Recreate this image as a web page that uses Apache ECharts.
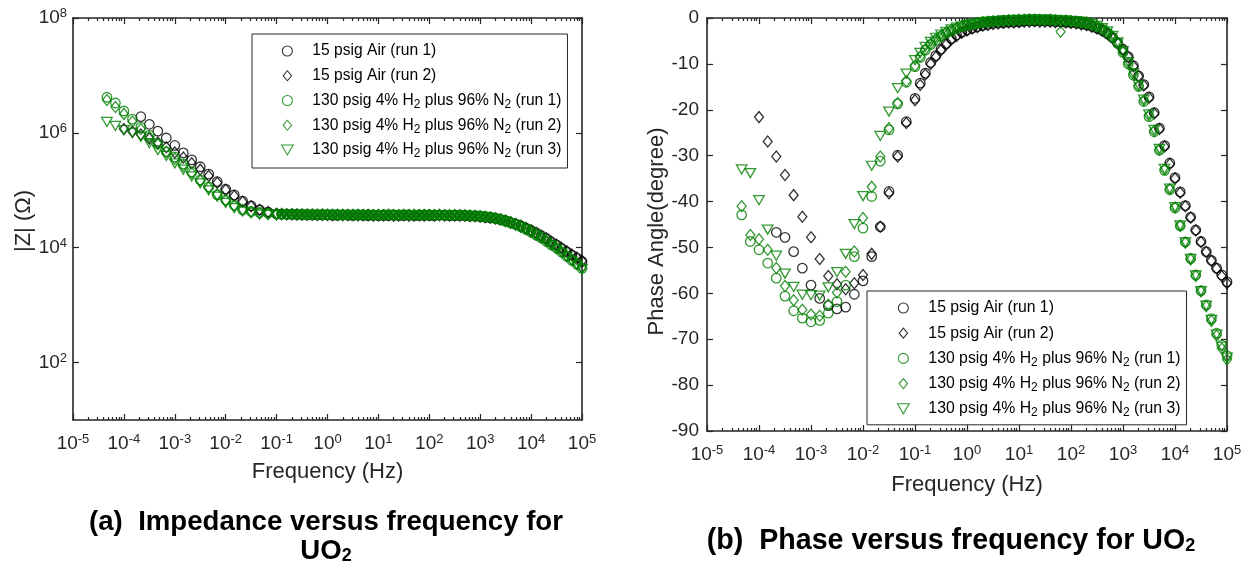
<!DOCTYPE html>
<html><head><meta charset="utf-8">
<script src="https://cdn.jsdelivr.net/npm/echarts@6/dist/echarts.min.js"></script>
<style>html,body{margin:0;padding:0;background:#fff}#c{width:1249px;height:567px}</style>
</head><body><div id="c"></div>
<script>
// ---------------- data ----------------
// measurement frequencies (Hz), high to low
const FREQ = [
  1e5, 7.94e4, 6.31e4, 5.01e4, 3.98e4, 3.16e4, 2.51e4, 2.0e4, 1.58e4, 1.26e4,
  1e4, 7943, 6310, 5012, 3981, 3162, 2512, 1995, 1585, 1259,
  1000, 794, 631, 501, 398, 316, 251, 200, 158, 126,
  100, 79.4, 63.1, 50.1, 39.8, 31.6, 25.1, 20.0, 15.8, 12.6,
  10, 7.94, 6.31, 5.01, 3.98, 3.16, 2.51, 2.0, 1.58, 1.26,
  1, 0.794, 0.631, 0.501, 0.398, 0.316, 0.251, 0.2, 0.158, 0.126,
  0.1, 0.0681, 0.0464, 0.0316, 0.0215, 0.0147,
  0.01, 6.81e-3, 4.64e-3, 3.16e-3, 2.15e-3, 1.47e-3,
  1e-3, 6.81e-4, 4.64e-4, 3.16e-4, 2.15e-4, 1.47e-4,
  1e-4, 6.81e-5, 4.64e-5
];

const SERIES_NAMES = [
  '15 psig Air (run 1)',
  '15 psig Air (run 2)',
  '130 psig 4% H2 plus 96% N2 (run 1)',
  '130 psig 4% H2 plus 96% N2 (run 2)',
  '130 psig 4% H2 plus 96% N2 (run 3)'
];

// |Z| in ohm
const ZMOD_AIR1 = [
  5.75e3, 6.61e3, 7.41e3, 8.51e3, 9.77e3, 1.12e4, 1.26e4, 1.45e4, 1.62e4, 1.82e4,
  2.00e4, 2.19e4, 2.40e4, 2.57e4, 2.75e4, 2.95e4, 3.09e4, 3.24e4, 3.31e4, 3.39e4,
  3.47e4, 3.55e4, 3.55e4, 3.63e4, 3.63e4, 3.60e4, 3.63e4, 3.66e4, 3.72e4, 3.63e4,
  3.61e4, 3.70e4, 3.63e4, 3.60e4, 3.68e4, 3.63e4, 3.61e4, 3.70e4, 3.62e4, 3.64e4,
  3.63e4, 3.70e4, 3.62e4, 3.64e4, 3.71e4, 3.63e4, 3.69e4, 3.72e4, 3.65e4, 3.70e4,
  3.72e4, 3.72e4, 3.73e4, 3.72e4, 3.75e4, 3.78e4, 3.80e4, 3.80e4, 3.82e4, 3.85e4,
  3.89e4, 4.17e4, 4.57e4, 5.37e4, 6.46e4, 8.32e4, 1.05e5, 1.41e5, 1.91e5, 2.57e5,
  3.39e5, 4.47e5, 6.03e5, 8.13e5, 1.07e6, 1.41e6, 1.91e6
];
const ZMOD_AIR2 = [
  5.90e3, 6.76e3, 7.59e3, 8.71e3, 9.93e3, 1.13e4, 1.27e4, 1.46e4, 1.63e4, 1.83e4,
  2.01e4, 2.20e4, 2.41e4, 2.58e4, 2.76e4, 2.96e4, 3.10e4, 3.24e4, 3.32e4, 3.40e4,
  3.48e4, 3.53e4, 3.57e4, 3.60e4, 3.62e4, 3.65e4, 3.60e4, 3.63e4, 3.68e4, 3.62e4,
  3.66e4, 3.61e4, 3.67e4, 3.63e4, 3.60e4, 3.66e4, 3.64e4, 3.62e4, 3.69e4, 3.63e4,
  3.65e4, 3.62e4, 3.68e4, 3.66e4, 3.63e4, 3.70e4, 3.66e4, 3.68e4, 3.71e4, 3.69e4,
  3.71e4, 3.73e4, 3.72e4, 3.74e4, 3.76e4, 3.77e4, 3.79e4, 3.81e4, 3.83e4, 3.86e4,
  3.89e4, 4.17e4, 4.57e4, 5.25e4, 6.31e4, 7.94e4, 1.02e5, 1.35e5, 1.78e5, 2.29e5,
  2.95e5, 3.72e5, 4.57e5, 5.62e5, 6.76e5, 7.94e5, 9.33e5, 1.05e6, 1.17e6
];
const ZMOD_H2_1 = [
  4.37e3, 5.13e3, 6.03e3, 7.08e3, 8.32e3, 9.77e3, 1.12e4, 1.29e4, 1.48e4, 1.66e4,
  1.86e4, 2.09e4, 2.29e4, 2.51e4, 2.69e4, 2.88e4, 3.09e4, 3.24e4, 3.39e4, 3.47e4,
  3.55e4, 3.60e4, 3.63e4, 3.70e4, 3.66e4, 3.72e4, 3.68e4, 3.74e4, 3.69e4, 3.72e4,
  3.76e4, 3.70e4, 3.74e4, 3.71e4, 3.77e4, 3.72e4, 3.70e4, 3.75e4, 3.72e4, 3.76e4,
  3.71e4, 3.74e4, 3.77e4, 3.72e4, 3.75e4, 3.73e4, 3.77e4, 3.74e4, 3.76e4, 3.75e4,
  3.77e4, 3.76e4, 3.78e4, 3.77e4, 3.79e4, 3.80e4, 3.81e4, 3.83e4, 3.84e4, 3.86e4,
  3.89e4, 3.98e4, 4.07e4, 4.27e4, 4.57e4, 5.50e4, 6.76e4, 8.32e4, 1.15e5, 1.51e5,
  2.09e5, 2.88e5, 3.80e5, 4.68e5, 6.46e5, 9.12e5, 1.26e6, 1.74e6, 2.40e6, 3.31e6, 4.17e6
];
const ZMOD_H2_2 = [
  4.47e3, 5.25e3, 6.17e3, 7.24e3, 8.51e3, 9.93e3, 1.14e4, 1.30e4, 1.49e4, 1.67e4,
  1.87e4, 2.09e4, 2.30e4, 2.51e4, 2.70e4, 2.89e4, 3.08e4, 3.23e4, 3.37e4, 3.46e4,
  3.53e4, 3.58e4, 3.62e4, 3.66e4, 3.70e4, 3.67e4, 3.71e4, 3.68e4, 3.73e4, 3.70e4,
  3.72e4, 3.75e4, 3.69e4, 3.73e4, 3.70e4, 3.74e4, 3.72e4, 3.69e4, 3.74e4, 3.71e4,
  3.73e4, 3.70e4, 3.75e4, 3.72e4, 3.74e4, 3.71e4, 3.75e4, 3.73e4, 3.74e4, 3.76e4,
  3.75e4, 3.77e4, 3.76e4, 3.78e4, 3.77e4, 3.79e4, 3.80e4, 3.82e4, 3.83e4, 3.85e4,
  3.80e4, 3.89e4, 3.98e4, 4.17e4, 4.57e4, 5.37e4, 6.61e4, 8.51e4, 1.12e5, 1.48e5,
  2.00e5, 2.69e5, 3.55e5, 4.68e5, 6.31e5, 8.51e5, 1.17e6, 1.58e6, 2.14e6, 2.82e6, 3.72e6
];
const ZMOD_H2_3 = [
  4.27e3, 5.01e3, 5.89e3, 6.92e3, 8.13e3, 9.55e3, 1.10e4, 1.27e4, 1.46e4, 1.65e4,
  1.85e4, 2.07e4, 2.28e4, 2.49e4, 2.68e4, 2.88e4, 3.06e4, 3.22e4, 3.36e4, 3.45e4,
  3.52e4, 3.57e4, 3.60e4, 3.64e4, 3.68e4, 3.65e4, 3.70e4, 3.67e4, 3.71e4, 3.68e4,
  3.70e4, 3.73e4, 3.68e4, 3.71e4, 3.69e4, 3.72e4, 3.70e4, 3.68e4, 3.73e4, 3.70e4,
  3.71e4, 3.69e4, 3.73e4, 3.70e4, 3.72e4, 3.70e4, 3.73e4, 3.71e4, 3.72e4, 3.73e4,
  3.72e4, 3.73e4, 3.72e4, 3.74e4, 3.73e4, 3.74e4, 3.74e4, 3.75e4, 3.75e4, 3.76e4,
  3.72e4, 3.72e4, 3.80e4, 3.98e4, 4.27e4, 4.90e4, 6.03e4, 7.76e4, 1.00e5, 1.32e5,
  1.74e5, 2.29e5, 2.95e5, 3.98e5, 5.01e5, 6.61e5, 8.51e5, 1.00e6, 1.12e6, 1.32e6, 1.55e6
];

// phase angle in degree
const PHASE_AIR1 = [
  -57.5, -56.0, -54.5, -52.8, -50.9, -48.7, -46.2, -43.4, -40.9, -37.9,
  -34.8, -31.6, -27.8, -24.0, -20.6, -17.2, -14.5, -12.6, -10.4, -8.4,
  -6.8, -5.4, -4.3, -3.4, -2.7, -2.2, -1.8, -1.5, -1.3, -1.1,
  -1.0, -0.9, -0.8, -0.8, -0.7, -0.7, -0.6, -0.7, -0.6, -0.7,
  -0.8, -0.9, -0.9, -1.0, -1.1, -1.2, -1.4, -1.6, -1.9, -2.2,
  -2.6, -3.1, -3.7, -4.5, -5.6, -6.8, -8.2, -9.7, -12.0, -14.2,
  -17.5, -22.6, -29.9, -37.8, -45.5, -52.0, -57.3, -60.2, -63.0, -63.4,
  -62.7, -61.1, -58.2, -54.5, -50.9, -47.8, -46.7
];
const PHASE_AIR2 = [
  -57.8, -56.3, -54.6, -52.9, -51.0, -48.8, -46.3, -43.5, -41.0, -38.1,
  -35.0, -31.8, -28.0, -24.2, -20.8, -17.4, -14.7, -12.7, -10.5, -8.5,
  -6.9, -5.5, -4.4, -3.5, -2.8, -2.3, -1.9, -1.6, -1.4, -1.2,
  -1.1, -1.0, -0.9, -0.9, -0.8, -0.8, -0.8, -0.7, -0.8, -0.8,
  -0.9, -1.0, -1.0, -1.1, -1.2, -1.3, -1.5, -1.7, -2.0, -2.3,
  -2.7, -3.2, -3.9, -4.7, -5.8, -7.0, -8.5, -10.0, -12.3, -14.6,
  -17.9, -22.9, -30.2, -38.2, -45.5, -51.4, -56.0, -57.8, -59.1, -58.0,
  -56.2, -52.5, -47.8, -43.3, -38.6, -34.2, -30.2, -26.9, -21.6
];
const PHASE_H2_1 = [
  -73.6, -71.3, -68.7, -65.5, -62.5, -59.4, -56.0, -52.4, -48.8, -45.3,
  -41.4, -37.4, -33.2, -28.8, -24.8, -21.5, -18.2, -14.9, -12.4, -10.0,
  -7.5, -5.6, -4.2, -3.2, -2.4, -1.9, -1.5, -1.2, -1.0, -0.8,
  -0.7, -0.6, -0.5, -0.5, -0.4, -0.4, -0.4, -0.3, -0.4, -0.4,
  -0.5, -0.5, -0.6, -0.6, -0.7, -0.8, -0.9, -1.0, -1.2, -1.4,
  -1.6, -1.9, -2.3, -2.8, -3.3, -4.0, -4.9, -5.8, -7.0, -8.6,
  -10.6, -14.0, -18.7, -24.4, -31.2, -38.9, -45.8, -52.0, -58.2, -61.8,
  -64.3, -65.9, -66.2, -65.4, -63.8, -60.6, -56.7, -53.4, -50.5, -48.7, -42.9
];
const PHASE_H2_2 = [
  -74.4, -72.0, -69.2, -66.0, -62.8, -59.6, -56.2, -52.6, -49.0, -45.3,
  -41.3, -37.3, -33.0, -28.7, -24.6, -21.2, -18.0, -14.8, -12.2, -9.8,
  -7.4, -5.5, -4.1, -3.1, -2.4, -1.8, -1.4, -1.1, -0.9, -0.8,
  -0.7, -0.6, -3.0, -0.5, -0.4, -0.5, -0.4, -0.4, -0.3, -0.4,
  -0.4, -0.5, -0.5, -0.6, -0.7, -0.7, -0.8, -0.9, -1.1, -1.3,
  -1.5, -1.8, -2.2, -2.6, -3.1, -3.8, -4.6, -5.6, -6.8, -8.4,
  -10.4, -13.8, -18.5, -24.0, -30.2, -36.8, -43.6, -50.9, -55.3, -59.8,
  -62.5, -64.9, -64.6, -63.6, -61.5, -58.4, -54.5, -50.5, -48.2, -47.3, -41.0
];
const PHASE_H2_3 = [
  -74.0, -71.6, -69.0, -65.8, -62.7, -59.5, -56.1, -52.5, -48.9, -45.2,
  -41.2, -37.2, -32.9, -28.5, -24.4, -21.0, -17.8, -14.6, -12.0, -9.6,
  -7.2, -5.3, -3.9, -2.9, -2.2, -1.7, -1.3, -1.0, -0.8, -0.7,
  -0.6, -0.5, -0.5, -0.4, -0.4, -0.3, -0.4, -0.3, -0.3, -0.4,
  -0.4, -0.4, -0.5, -0.5, -0.6, -0.7, -0.8, -0.9, -1.1, -1.3,
  -1.5, -1.8, -2.1, -2.5, -3.0, -3.6, -4.3, -5.2, -6.3, -7.6,
  -9.2, -12.1, -15.3, -20.4, -25.7, -32.2, -38.8, -44.9, -51.4, -55.4,
  -58.7, -60.5, -60.4, -60.3, -58.6, -55.7, -51.8, -46.1, -39.7, -33.8, -33.0
];

// tick labels
const FREQ_TICK_EXP = [-5, -4, -3, -2, -1, 0, 1, 2, 3, 4, 5];
const ZMOD_TICK_EXP = [2, 4, 6, 8];
const PHASE_TICKS = [0, -10, -20, -30, -40, -50, -60, -70, -80, -90];

const ZMOD = [ZMOD_AIR1, ZMOD_AIR2, ZMOD_H2_1, ZMOD_H2_2, ZMOD_H2_3];
const PHASE = [PHASE_AIR1, PHASE_AIR2, PHASE_H2_1, PHASE_H2_2, PHASE_H2_3];

// ---------------- styling ----------------
const FONT = "'Liberation Sans', Arial, Helvetica, sans-serif";
const AX = '#262626';
const BLACK = '#000000', GREEN = '#008000';
const TRI_DOWN = 'path://M0,0L10,0L5,8.6Z';
const DIAMOND = 'path://M5,0L10,6L5,12L0,6Z';
const STYLES = [
  { color: BLACK, symbol: 'circle', size: 9.5 },
  { color: BLACK, symbol: DIAMOND, size: [9, 11] },
  { color: GREEN, symbol: 'circle', size: 9.5 },
  { color: GREEN, symbol: DIAMOND, size: [9, 11] },
  { color: GREEN, symbol: TRI_DOWN, size: [10.5, 9] }
];

// minor tick positions (decade exponent space) for the log frequency axis
const MINOR = [];
for (let n = -5; n < 5; n++) for (let k = 2; k <= 9; k++) MINOR.push(n + Math.log10(k));

const supRich = {
  b: { fontSize: 19, lineHeight: 22, fontFamily: FONT, color: AX },
  s: { fontSize: 13, lineHeight: 13, verticalAlign: 'top', fontFamily: FONT, color: AX }
};
const powLabel = v => '{b|10}{s|' + Math.round(v) + '}';
const axLine = { show: true, onZero: false, lineStyle: { color: AX, width: 1.6 } };
const tickStyle = { color: AX, width: 1.2 };

function freqAxes(g, nameGap) {
  return [
    { type: 'log', logBase: 10, gridIndex: g, min: 1e-5, max: 1e5, show: false },
    { type: 'value', gridIndex: g, position: 'bottom', min: -5, max: 5,
      axisLine: axLine, splitLine: { show: false },
      axisTick: { inside: true, length: 6, customValues: FREQ_TICK_EXP, lineStyle: tickStyle },
      axisLabel: { margin: 13, customValues: FREQ_TICK_EXP, formatter: powLabel, rich: supRich },
      name: 'Frequency (Hz)', nameLocation: 'middle', nameGap: nameGap,
      nameTextStyle: { fontSize: 22, fontFamily: FONT, color: AX } },
    { type: 'value', gridIndex: g, position: 'bottom', min: -5, max: 5,
      axisLine: { show: false, onZero: false }, splitLine: { show: false }, axisLabel: { show: false },
      axisTick: { inside: true, length: 3, customValues: MINOR, lineStyle: tickStyle } },
    { type: 'value', gridIndex: g, position: 'top', min: -5, max: 5,
      axisLine: axLine, splitLine: { show: false }, axisLabel: { show: false },
      axisTick: { inside: true, length: 6, customValues: FREQ_TICK_EXP, lineStyle: tickStyle } },
    { type: 'value', gridIndex: g, position: 'top', min: -5, max: 5,
      axisLine: { show: false, onZero: false }, splitLine: { show: false }, axisLabel: { show: false },
      axisTick: { inside: true, length: 3, customValues: MINOR, lineStyle: tickStyle } }
  ];
}

const xAxis = freqAxes(0, 41).concat(freqAxes(1, 43));
const yAxis = [
  { type: 'log', logBase: 10, gridIndex: 0, min: 10, max: 1e8, show: false },
  { type: 'value', gridIndex: 0, position: 'left', min: 1, max: 8,
    axisLine: axLine, splitLine: { show: false },
    axisTick: { inside: true, length: 6, customValues: ZMOD_TICK_EXP, lineStyle: tickStyle },
    axisLabel: { margin: 6, customValues: ZMOD_TICK_EXP, formatter: powLabel, rich: supRich },
    name: '|Z| (\u03A9)', nameLocation: 'middle', nameGap: 38, nameRotate: 90,
    nameTextStyle: { fontSize: 22, fontFamily: FONT, color: AX, padding: [0, 4, 0, 0] } },
  { type: 'value', gridIndex: 0, position: 'right', min: 1, max: 8,
    axisLine: axLine, splitLine: { show: false }, axisLabel: { show: false },
    axisTick: { inside: true, length: 6, customValues: ZMOD_TICK_EXP, lineStyle: tickStyle } },
  { type: 'value', gridIndex: 1, position: 'left', min: -90, max: 0,
    axisLine: axLine, splitLine: { show: false },
    axisTick: { inside: true, length: 6, customValues: PHASE_TICKS, lineStyle: tickStyle },
    axisLabel: { margin: 8, customValues: PHASE_TICKS, fontSize: 19, fontFamily: FONT, color: AX },
    name: 'Phase Angle(degree)', nameLocation: 'middle', nameGap: 38, nameRotate: 90,
    nameTextStyle: { fontSize: 22, fontFamily: FONT, color: AX, padding: [0, 14, 0, 0] } },
  { type: 'value', gridIndex: 1, position: 'right', min: -90, max: 0,
    axisLine: axLine, splitLine: { show: false }, axisLabel: { show: false },
    axisTick: { inside: true, length: 6, customValues: PHASE_TICKS, lineStyle: tickStyle } }
];

const series = [];
for (let i = 0; i < 5; i++) {
  const st = STYLES[i];
  const common = {
    type: 'scatter', name: SERIES_NAMES[i], symbol: st.symbol, symbolSize: st.size,
    itemStyle: { color: 'rgba(0,0,0,0)', borderColor: st.color, borderWidth: 1.3 },
    emphasis: { disabled: true }, silent: true
  };
  series.push(Object.assign({}, common, {
    xAxisIndex: 0, yAxisIndex: 0,
    data: ZMOD[i].map((v, j) => [FREQ[j], v])
  }));
  series.push(Object.assign({}, common, {
    xAxisIndex: 5, yAxisIndex: 3,
    data: PHASE[i].map((v, j) => [FREQ[j], v])
  }));
}

const legendFmt = n => n.replace('H2', 'H{s|2}').replace('N2', 'N{s|2}');
function legend(left, top, fs, gap, padL, padB) {
  return {
    orient: 'vertical', left: left, top: top,
    data: SERIES_NAMES.map((n, i) => ({ name: n, icon: STYLES[i].symbol })),
    formatter: legendFmt,
    itemWidth: 40, itemHeight: 10, itemGap: gap, padding: [7, 6, padB, padL],
    borderColor: AX, borderWidth: 1, backgroundColor: '#fff', selectedMode: false,
    itemStyle: { borderWidth: 1.1 },
    textStyle: { fontSize: fs, fontFamily: FONT, color: '#000', lineHeight: 20,
      rich: { s: { fontSize: 12, lineHeight: 6, verticalAlign: 'bottom', fontFamily: FONT, color: '#000' } } }
  };
}

const titleRich = { s: { fontSize: 18, fontWeight: 'bold', lineHeight: 8, verticalAlign: 'bottom', fontFamily: FONT, fill: '#000' } };
const titleStyle = (text, fs) => ({ text: text, fontSize: fs, fontWeight: 'bold', fontFamily: FONT, fill: '#000',
  align: 'center', verticalAlign: 'middle', textAlign: 'center', textVerticalAlign: 'middle', rich: titleRich });

const chart = echarts.init(document.getElementById('c'), null, { renderer: 'canvas' });
chart.setOption({
  animation: false,
  backgroundColor: '#fff',
  grid: [
    { left: 73, top: 18, width: 509, height: 402, outerBoundsMode: 'none' },
    { left: 707, top: 18, width: 520, height: 413, outerBoundsMode: 'none' }
  ],
  xAxis: xAxis,
  yAxis: yAxis,
  legend: [legend(252, 34, 15.6, 4.75, 29, 8), legend(867, 291, 15.8, 5.2, 30, 6)],
  series: series,
  graphic: [
    { type: 'text', x: 326, y: 522, silent: true, style: titleStyle('(a)  Impedance versus frequency for', 27.6) },
    { type: 'text', x: 326, y: 551, silent: true, style: titleStyle('UO{s|2}', 27.6) },
    { type: 'text', x: 951, y: 541, silent: true, style: titleStyle('(b)  Phase versus frequency for UO{s|2}', 28.6) }
  ]
});
</script></body></html>
